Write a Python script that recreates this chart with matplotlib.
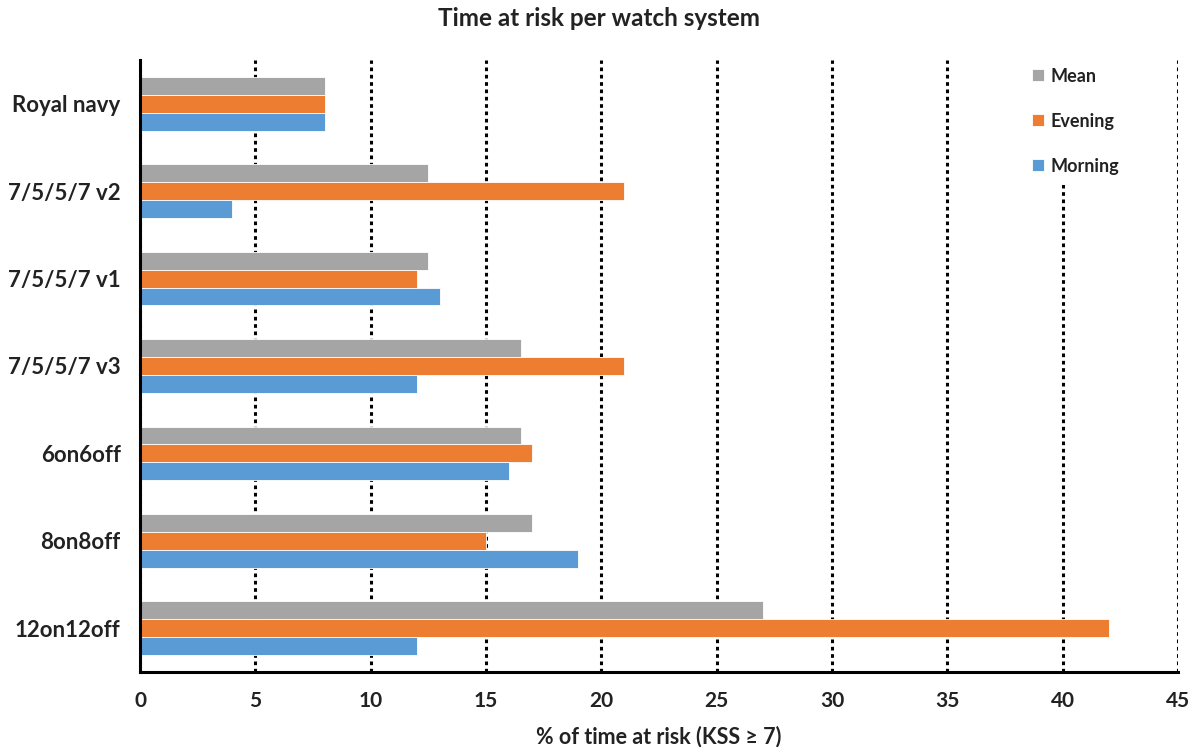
import matplotlib
matplotlib.use("Agg")
import matplotlib.pyplot as plt
import numpy as np

categories = ["Royal navy", "7/5/5/7 v2", "7/5/5/7 v1", "7/5/5/7 v3", "6on6off", "8on8off", "12on12off"]
mean_vals = [8, 12.5, 12.5, 16.5, 16.5, 17, 27]
evening_vals = [8, 21, 12, 21, 17, 15, 42]
morning_vals = [8, 4, 13, 12, 16, 19, 12]
xticks = [0, 5, 10, 15, 20, 25, 30, 35, 40, 45]

plt.rcParams['font.family'] = ['Lato', 'DejaVu Sans']

fig = plt.figure(figsize=(11.98, 7.47), dpi=100)
ax = fig.add_axes([0.1169, 0.1004, 0.8664, 0.8193])

n = len(categories)
y = np.arange(n)[::-1].astype(float)
h = 0.205
ax.barh(y + h, mean_vals, height=h, color='#A5A5A5', label='Mean', zorder=3, edgecolor='white', linewidth=0.6)
ax.barh(y, evening_vals, height=h, color='#ED7D31', label='Evening', zorder=3, edgecolor='white', linewidth=0.6)
ax.barh(y - h, morning_vals, height=h, color='#5B9BD5', label='Morning', zorder=3, edgecolor='white', linewidth=0.6)

ax.set_xlim(0, 45)
ax.set_ylim(-0.5, n - 0.5)
ax.set_xticks(xticks)
ax.set_xticklabels([str(t) for t in xticks], fontsize=15, fontweight='bold', color='#222222')
ax.set_yticks(y)
ax.set_yticklabels(categories, fontsize=16, fontweight='bold', color='#222222')
ax.tick_params(axis='y', length=0, pad=14)
ax.tick_params(axis='x', length=0, pad=14)

ax.xaxis.grid(True, linestyle=(0, (1.2, 1.2)), color='black', linewidth=2.2, zorder=0)
ax.set_axisbelow(True)

for s in ['top', 'right']:
    ax.spines[s].set_visible(False)
ax.spines['left'].set_linewidth(2.2)
ax.spines['bottom'].set_linewidth(2.2)
ax.spines['left'].set_zorder(4)
ax.spines['bottom'].set_zorder(4)

ax.set_xlabel('% of time at risk (KSS \u2265 7)', fontsize=15.5, fontweight='bold', color='#222222', labelpad=10)
fig.suptitle('Time at risk per watch system', fontsize=17.5, fontweight='bold', color='#222222', y=0.99)

leg = ax.legend(loc='upper left', bbox_to_anchor=(0.84, 1.02),
                frameon=True, facecolor='white', edgecolor='none', framealpha=1,
                labelspacing=1.55, handlelength=0.65, handleheight=0.65, handletextpad=0.4,
                borderpad=0.6, prop={'weight': 'bold', 'size': 13})
leg.set_zorder(5)
for t in leg.get_texts():
    t.set_color('#222222')

fig.savefig('out.png', dpi=100)
